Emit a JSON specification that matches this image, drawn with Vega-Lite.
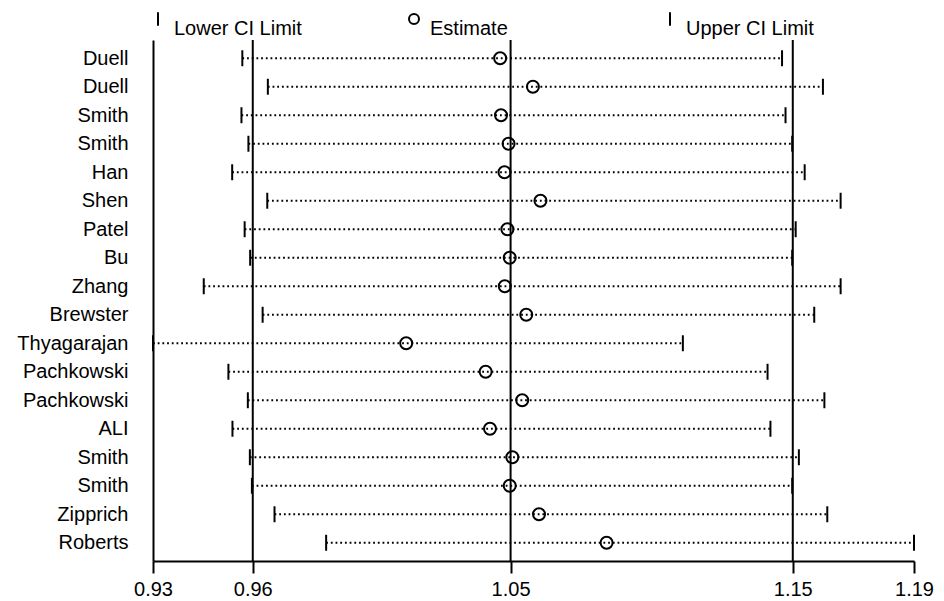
{
  "$schema": "https://vega.github.io/schema/vega-lite/v6.json",
  "autosize": {"type": "none"},
  "padding": {"left": 153, "top": 40, "right": 30, "bottom": 40},
  "width": 761,
  "height": 521,
  "background": "white",
  "config": {
    "view": {"stroke": null},
    "font": "Liberation Sans"
  },
  "datasets": {
    "studies": [
      {"study": "Duell|1", "Lower CI Limit": 0.9575, "Estimate": 1.0464, "Upper CI Limit": 1.1436},
      {"study": "Duell|2", "Lower CI Limit": 0.9663, "Estimate": 1.0577, "Upper CI Limit": 1.1577},
      {"study": "Smith|3", "Lower CI Limit": 0.9572, "Estimate": 1.0467, "Upper CI Limit": 1.1448},
      {"study": "Smith|4", "Lower CI Limit": 0.9596, "Estimate": 1.0493, "Upper CI Limit": 1.1471},
      {"study": "Han|5", "Lower CI Limit": 0.9540, "Estimate": 1.0479, "Upper CI Limit": 1.1514},
      {"study": "Shen|6", "Lower CI Limit": 0.9661, "Estimate": 1.0603, "Upper CI Limit": 1.1638},
      {"study": "Patel|7", "Lower CI Limit": 0.9583, "Estimate": 1.0489, "Upper CI Limit": 1.1483},
      {"study": "Bu|8", "Lower CI Limit": 0.9602, "Estimate": 1.0497, "Upper CI Limit": 1.1471},
      {"study": "Zhang|9", "Lower CI Limit": 0.9442, "Estimate": 1.0480, "Upper CI Limit": 1.1638},
      {"study": "Brewster|10", "Lower CI Limit": 0.9645, "Estimate": 1.0554, "Upper CI Limit": 1.1547},
      {"study": "Thyagarajan|11", "Lower CI Limit": 0.9267, "Estimate": 1.0140, "Upper CI Limit": 1.1094},
      {"study": "Pachkowski|12", "Lower CI Limit": 0.9527, "Estimate": 1.0414, "Upper CI Limit": 1.1386},
      {"study": "Pachkowski|13", "Lower CI Limit": 0.9594, "Estimate": 1.0540, "Upper CI Limit": 1.1582},
      {"study": "ALI|14", "Lower CI Limit": 0.9541, "Estimate": 1.0429, "Upper CI Limit": 1.1396},
      {"study": "Smith|15", "Lower CI Limit": 0.9601, "Estimate": 1.0506, "Upper CI Limit": 1.1494},
      {"study": "Smith|16", "Lower CI Limit": 0.9608, "Estimate": 1.0497, "Upper CI Limit": 1.1471},
      {"study": "Zipprich|17", "Lower CI Limit": 0.9686, "Estimate": 1.0598, "Upper CI Limit": 1.1592},
      {"study": "Roberts|18", "Lower CI Limit": 0.9864, "Estimate": 1.0831, "Upper CI Limit": 1.1891}
    ],
    "refs": [
      {"ref": 0.9611},
      {"ref": 1.05},
      {"ref": 1.1473}
    ]
  },
  "layer": [
    {
      "data": {"name": "refs"},
      "mark": {"type": "rule", "color": "black", "strokeWidth": 2},
      "encoding": {
        "x": {"field": "ref", "type": "quantitative"}
      }
    },
    {
      "data": {"name": "studies"},
      "mark": {"type": "rule", "color": "black", "strokeWidth": 1.8, "strokeDash": [1.8, 2.9]},
      "encoding": {
        "x": {"field": "Lower CI Limit", "type": "quantitative"},
        "x2": {"field": "Upper CI Limit"},
        "y": {"field": "study", "type": "nominal", "sort": null}
      }
    },
    {
      "data": {"name": "studies"},
      "transform": [
        {"fold": ["Lower CI Limit", "Estimate", "Upper CI Limit"], "as": ["kind", "val"]}
      ],
      "mark": {"type": "point", "filled": false, "color": "black", "strokeWidth": 2, "size": 144, "opacity": 1},
      "encoding": {
        "x": {
          "field": "val",
          "type": "quantitative",
          "scale": {"domain": [0.9267, 1.1891], "nice": false, "zero": false},
          "axis": {
            "values": [0.9267, 0.9611, 1.05, 1.1473, 1.1891],
            "format": ".2f",
            "title": null,
            "grid": false,
            "domainColor": "black",
            "domainWidth": 2,
            "tickColor": "black",
            "tickWidth": 2,
            "tickSize": 12,
            "labelFlush": false,
            "labelOverlap": false,
            "labelFontSize": 20,
            "labelColor": "black",
            "labelPadding": 6
          }
        },
        "y": {
          "field": "study",
          "type": "nominal",
          "sort": null,
          "scale": {"type": "point", "padding": 0.64},
          "axis": {
            "title": null,
            "ticks": false,
            "domainColor": "black",
            "domainWidth": 2,
            "labelFontSize": 20,
            "labelColor": "black",
            "labelPadding": 25,
            "labelExpr": "split(datum.value, '|')[0]"
          }
        },
        "shape": {
          "field": "kind",
          "type": "nominal",
          "scale": {
            "domain": ["Lower CI Limit", "Estimate", "Upper CI Limit"],
            "range": ["M0,-1.33V1.33", "circle", "M0,-1.33V1.33"]
          },
          "legend": {
            "title": null,
            "orient": "none",
            "legendX": -5,
            "legendY": -31,
            "direction": "horizontal",
            "columns": 3,
            "gridAlign": "all",
            "columnPadding": 102,
            "symbolSize": 100,
            "symbolStrokeColor": "black",
            "symbolStrokeWidth": 2,
            "symbolFillColor": "transparent",
            "labelFontSize": 20,
            "labelColor": "black",
            "labelOffset": 6,
            "labelBaseline": "top",
            "labelLimit": 300
          }
        }
      }
    }
  ]
}
